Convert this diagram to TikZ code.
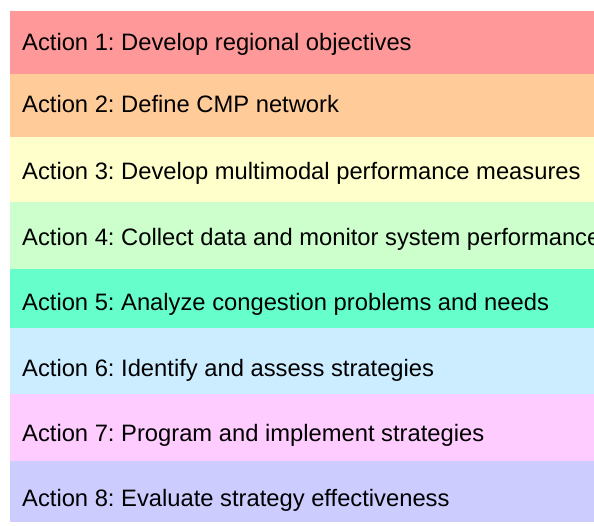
\documentclass[tikz,border=0pt]{standalone}
\usepackage{fontspec}
\setmainfont{Liberation Sans}
\definecolor{c1}{HTML}{FF9999}
\definecolor{c2}{HTML}{FFCC99}
\definecolor{c3}{HTML}{FFFFCC}
\definecolor{c4}{HTML}{CCFFCC}
\definecolor{c5}{HTML}{66FFCC}
\definecolor{c6}{HTML}{CCECFF}
\definecolor{c7}{HTML}{FFCCFF}
\definecolor{c8}{HTML}{CCCCFF}
\begin{document}
\frenchspacing
\begin{tikzpicture}[x=1pt,y=-1pt,
  lbl/.style={anchor=base west,inner sep=0pt,font=\fontsize{23.75}{26}\selectfont}]
\useasboundingbox (0,0) rectangle (594,525);
\clip (0,0) rectangle (594,525);
\fill[c1] (10,11) rectangle (594,74);
\fill[c2] (10,74) rectangle (594,137);
\fill[c3] (10,137) rectangle (594,202);
\fill[c4] (10,202) rectangle (594,269);
\fill[c5] (10,269) rectangle (594,328);
\fill[c6] (10,328) rectangle (594,394);
\fill[c7] (10,394) rectangle (594,461);
\fill[c8] (10,461) rectangle (594,522);
\node[lbl] (a1) at (22,50.5) {Action 1: Develop regional objectives};
\node[lbl] (a2) at (22,112.5) {Action 2: Define CMP network};
\node[lbl] (a3) at (22,179) {Action 3: Develop multimodal performance measures};
\node[lbl] (a4) at (22,245) {Action 4: Collect data and monitor system performance};
\node[lbl] (a5) at (22,310) {Action 5: Analyze congestion problems and needs};
\node[lbl] (a6) at (22,376.5) {Action 6: Identify and assess strategies};
\node[lbl] (a7) at (22,441) {Action 7: Program and implement strategies};
\node[lbl] (a8) at (22,506) {Action 8: Evaluate strategy effectiveness};
\end{tikzpicture}
\end{document}
